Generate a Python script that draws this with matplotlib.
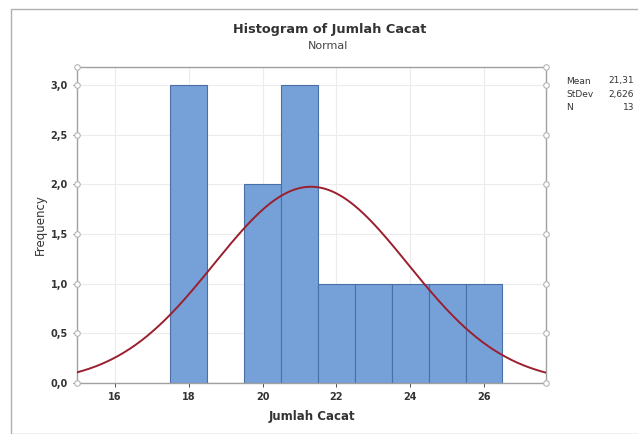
import numpy as np
import matplotlib.pyplot as plt
from matplotlib.patches import Rectangle

# data
bin_centers = [18, 19, 20, 21, 22, 23, 24, 25, 26]
counts = [3, 0, 2, 3, 1, 1, 1, 1, 1]
mean_val = 21.31
std_val = 2.626
n_obs = 13
x_ticks = [16, 18, 20, 22, 24, 26]
y_ticks = [0.0, 0.5, 1.0, 1.5, 2.0, 2.5, 3.0]

bar_color = '#76a1d8'
edge_color = '#4a6fa5'
curve_color = '#9b1f2e'
grid_color = '#ececec'
spine_color = '#a0a0a0'


def comma(v, fmt):
    return format(v, fmt).replace('.', ',')


fig = plt.figure(figsize=(6.38, 4.34), dpi=100)
fig.patches.append(Rectangle((11 / 638, 0), 1, 1 - 9 / 434, transform=fig.transFigure,
                             fill=False, edgecolor='#b0b0b0', linewidth=1.0))

ax = fig.add_axes([77 / 638, 1 - 383 / 434, 469 / 638, 316 / 434])
ax.bar(bin_centers, counts, width=1.0, color=bar_color, edgecolor=edge_color,
       linewidth=0.8, zorder=2)

# fitted normal curve scaled to counts (bin width = 1)
xs = np.linspace(14.97, 27.68, 400)
pdf = n_obs * 1.0 / (std_val * np.sqrt(2 * np.pi)) * np.exp(-0.5 * ((xs - mean_val) / std_val) ** 2)
ax.plot(xs, pdf, color=curve_color, linewidth=1.4, zorder=3)

ax.set_xlim(14.97, 27.68)
ax.set_ylim(0, 3.18)
ax.set_xticks(x_ticks)
ax.set_xticklabels([str(t) for t in x_ticks])
ax.set_yticks(y_ticks)
ax.set_yticklabels([comma(t, '.1f') for t in y_ticks])
ax.tick_params(labelsize=7, colors='#333333', length=3, width=0.6)
for lab in ax.get_xticklabels() + ax.get_yticklabels():
    lab.set_fontweight('bold')

ax.grid(True, color=grid_color, linewidth=0.8, zorder=0)
ax.set_axisbelow(True)
for s in ax.spines.values():
    s.set_color(spine_color)
    s.set_linewidth(1.0)

# small open circles on the side axes (Minitab style)
for yv in y_ticks + [3.18]:
    ax.plot([14.97, 27.68], [yv, yv], linestyle='none', marker='o', markersize=4,
            markerfacecolor='white', markeredgecolor='#b5b5b5', markeredgewidth=0.8,
            clip_on=False, zorder=5)

ax.set_xlabel('Jumlah Cacat', fontsize=8.5, fontweight='bold', color='#333333', labelpad=6)
ax.set_ylabel('Frequency', fontsize=8.5, color='#333333', labelpad=3)

fig.text(330 / 638, 1 - 30 / 434, 'Histogram of Jumlah Cacat', ha='center', va='center',
         fontsize=9.3, fontweight='bold', color='#333333')
fig.text(328 / 638, 1 - 46 / 434, 'Normal', ha='center', va='center',
         fontsize=8, color='#444444')

stats = [('Mean', comma(mean_val, '.2f')), ('StDev', comma(std_val, '.3f')), ('N', str(n_obs))]
for i, (k, v) in enumerate(stats):
    yy = 1 - (81 + i * 13.5) / 434
    fig.text(566 / 638, yy, k, ha='left', va='center', fontsize=6.5, color='#333333')
    fig.text(634 / 638, yy, v, ha='right', va='center', fontsize=6.5, color='#333333')

fig.savefig('out.png', dpi=100)
